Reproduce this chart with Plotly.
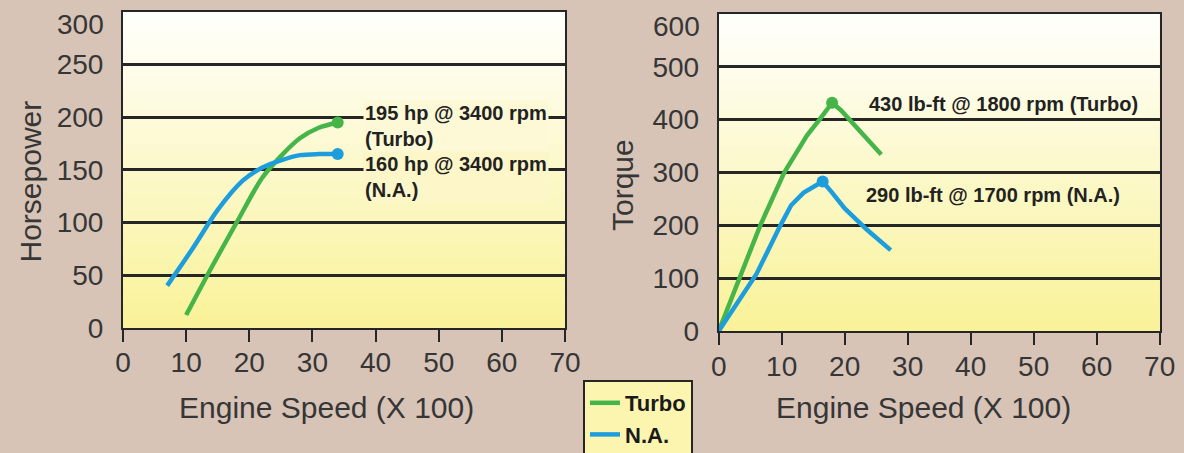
import plotly.graph_objects as go

# ---------------- data ----------------
# Horsepower vs engine speed (x100 rpm)
hp_turbo_speed = [10, 14, 18, 22, 25, 28, 31, 34]
hp_turbo_value = [12, 57, 100, 142, 163, 180, 190, 195]
hp_na_speed = [7, 11, 15, 19, 22, 25, 28, 31, 34]
hp_na_value = [40, 75, 112, 140, 152, 159, 164, 165, 165]

# Torque vs engine speed (x100 rpm)
tq_turbo_speed = [0, 3.3, 6.6, 10.4, 12.5, 14, 16, 18, 19.4, 22.5, 25.8]
tq_turbo_value = [0, 100, 200, 300, 342, 370, 400, 432, 418, 378, 334]
tq_na_speed = [0, 3.3, 6, 9.8, 11.5, 13.5, 16.5, 18, 20, 23.5, 27.3]
tq_na_value = [0, 60, 108, 200, 238, 262, 283, 262, 232, 192, 153]

# peak markers
hp_peak_turbo = (34, 195)
hp_peak_na = (34, 165)
tq_peak_turbo = (18, 432)
tq_peak_na = (16.5, 283)

# axis ticks
speed_ticks = [0, 10, 20, 30, 40, 50, 60, 70]
hp_ticks = [0, 50, 100, 150, 200, 250]
hp_top = 300
tq_ticks = [0, 100, 200, 300, 400, 500]
tq_top = 600

series_names = ["Turbo", "N.A."]
x_title = "Engine Speed (X 100)"
hp_title = "Horsepower"
tq_title = "Torque"
hp_notes = ["195 hp @ 3400 rpm<br>(Turbo)", "160 hp @ 3400 rpm<br>(N.A.)"]
tq_notes = ["430 lb-ft @ 1800 rpm (Turbo)", "290 lb-ft @ 1700 rpm (N.A.)"]

# ---------------- style ----------------
W, H = 1184, 453
GREEN = "#45b54a"
BLUE = "#1e9ddc"
FONT = "Liberation Sans, Arial, sans-serif"
INK = "#363636"
LINEC = "#262626"

fig = go.Figure()

def line(x, y, color, name, xa, ya, show, shape):
    fig.add_trace(go.Scatter(
        x=x, y=y, mode="lines", name=name, legendgroup=name, showlegend=show,
        line=dict(color=color, width=4.5, shape=shape, smoothing=0.8),
        xaxis=xa, yaxis=ya, hoverinfo="skip"))

def dot(pt, color, xa, ya):
    fig.add_trace(go.Scatter(
        x=[pt[0]], y=[pt[1]], mode="markers", showlegend=False,
        marker=dict(color=color, size=12), xaxis=xa, yaxis=ya, hoverinfo="skip"))

line(hp_turbo_speed, hp_turbo_value, GREEN, series_names[0], "x", "y", True, "spline")
line(hp_na_speed, hp_na_value, BLUE, series_names[1], "x", "y", True, "spline")
line(tq_turbo_speed, tq_turbo_value, GREEN, series_names[0], "x2", "y2", False, "linear")
line(tq_na_speed, tq_na_value, BLUE, series_names[1], "x2", "y2", False, "linear")
dot(hp_peak_turbo, GREEN, "x", "y")
dot(hp_peak_na, BLUE, "x", "y")
dot(tq_peak_turbo, GREEN, "x2", "y2")
dot(tq_peak_na, BLUE, "x2", "y2")

# gradient plot backgrounds
shapes = []
def gradient(xref, yref, n=60):
    top = (255, 255, 253)
    bot = (249, 242, 152)
    for i in range(n):
        f = (i + 0.5) / n
        c = tuple(round(top[k] + (bot[k] - top[k]) * f) for k in range(3))
        shapes.append(dict(type="rect", xref=f"{xref} domain", yref=f"{yref} domain",
                           x0=0, x1=1, y0=max(0, 1 - (i + 1) / n - 0.003), y1=1 - i / n,
                           fillcolor="rgb(%d,%d,%d)" % c, line=dict(width=0), layer="below"))
gradient("x", "y")
gradient("x2", "y2")

tickfont = dict(family=FONT, size=28, color=INK)

def xaxis(domain, anchor):
    return dict(domain=domain, anchor=anchor, range=[speed_ticks[0], speed_ticks[-1]],
                tickmode="array", tickvals=speed_ticks,
                showgrid=False, zeroline=False, showline=True, linecolor=LINEC,
                linewidth=2, mirror=True, ticks="outside", ticklen=12, tickwidth=2,
                tickcolor=LINEC, tickfont=tickfont, ticklabeloverflow="allow",
                ticklabelstandoff=-3, automargin=False)

def yaxis(domain, anchor, top, ticks):
    return dict(domain=domain, anchor=anchor, range=[0, top],
                tickmode="array", tickvals=ticks,
                showgrid=True, gridcolor=LINEC, gridwidth=2.5, zeroline=False,
                showline=True, linecolor=LINEC, linewidth=2, mirror=True,
                ticks="outside", ticklen=12, tickcolor="rgba(0,0,0,0)",
                tickfont=tickfont, ticklabeloverflow="allow", automargin=False)

ann_font = dict(family=FONT, size=20, color="#222222", weight="bold")
title_font = dict(family=FONT, size=30, color=INK)
annotations = [
    dict(x=38, y=192, xref="x", yref="y", text=hp_notes[0], showarrow=False,
         xanchor="left", yanchor="middle", align="left", font=ann_font,
         bgcolor="#fdf9d6", borderpad=1),
    dict(x=38, y=143, xref="x", yref="y", text=hp_notes[1], showarrow=False,
         xanchor="left", yanchor="middle", align="left", font=ann_font,
         bgcolor="#fcf6c8", borderpad=1),
    dict(x=23.6, y=430, xref="x2", yref="y2", text=tq_notes[0], showarrow=False,
         xanchor="left", yanchor="middle", font=ann_font),
    dict(x=23.1, y=257, xref="x2", yref="y2", text=tq_notes[1], showarrow=False,
         xanchor="left", yanchor="middle", font=ann_font),
    # top tick labels sit a little below the top border in the original
    dict(x=0, y=hp_top, xref="x domain", yref="y", text=str(hp_top), showarrow=False,
         xanchor="right", yanchor="middle", xshift=-17, yshift=-12, font=tickfont),
    dict(x=0, y=tq_top, xref="x2 domain", yref="y2", text=str(tq_top), showarrow=False,
         xanchor="right", yanchor="middle", xshift=-17, yshift=-12, font=tickfont),
    dict(x=326 / W, y=1 - 407 / H, xref="paper", yref="paper", text=x_title,
         showarrow=False, xanchor="center", yanchor="middle", font=title_font),
    dict(x=923 / W, y=1 - 407 / H, xref="paper", yref="paper", text=x_title,
         showarrow=False, xanchor="center", yanchor="middle", font=title_font),
    dict(x=30 / W, y=1 - 181.5 / H, xref="paper", yref="paper", text=hp_title,
         showarrow=False, textangle=-90, xanchor="center", yanchor="middle", font=title_font),
    dict(x=622 / W, y=1 - 185 / H, xref="paper", yref="paper", text=tq_title,
         showarrow=False, textangle=-90, xanchor="center", yanchor="middle", font=title_font),
]

fig.update_layout(
    width=W, height=H,
    margin=dict(l=0, r=0, t=0, b=0, autoexpand=False),
    paper_bgcolor="#d7c4b7",
    plot_bgcolor="#fdf8d0",
    xaxis=xaxis([123 / W, 565 / W], "y"),
    yaxis=yaxis([1 - 327.7 / H, 1 - 12 / H], "x", hp_top, hp_ticks),
    xaxis2=xaxis([718.7 / W, 1159.7 / W], "y2"),
    yaxis2=yaxis([1 - 331 / H, 1 - 14 / H], "x2", tq_top, tq_ticks),
    shapes=shapes,
    annotations=annotations,
    showlegend=True,
    legend=dict(x=583 / W, y=1 - 380 / H, xanchor="left", yanchor="top",
                bgcolor="#fcf5b0", bordercolor=LINEC, borderwidth=2,
                font=dict(family=FONT, size=22, color="#1a1a1a", weight="bold"),
                tracegroupgap=0, itemwidth=30),
)

fig.write_html(
    "out.html",
    config={"displayModeBar": False},
    post_script="document.body.style.margin='0px';document.body.style.overflow='hidden';",
)
